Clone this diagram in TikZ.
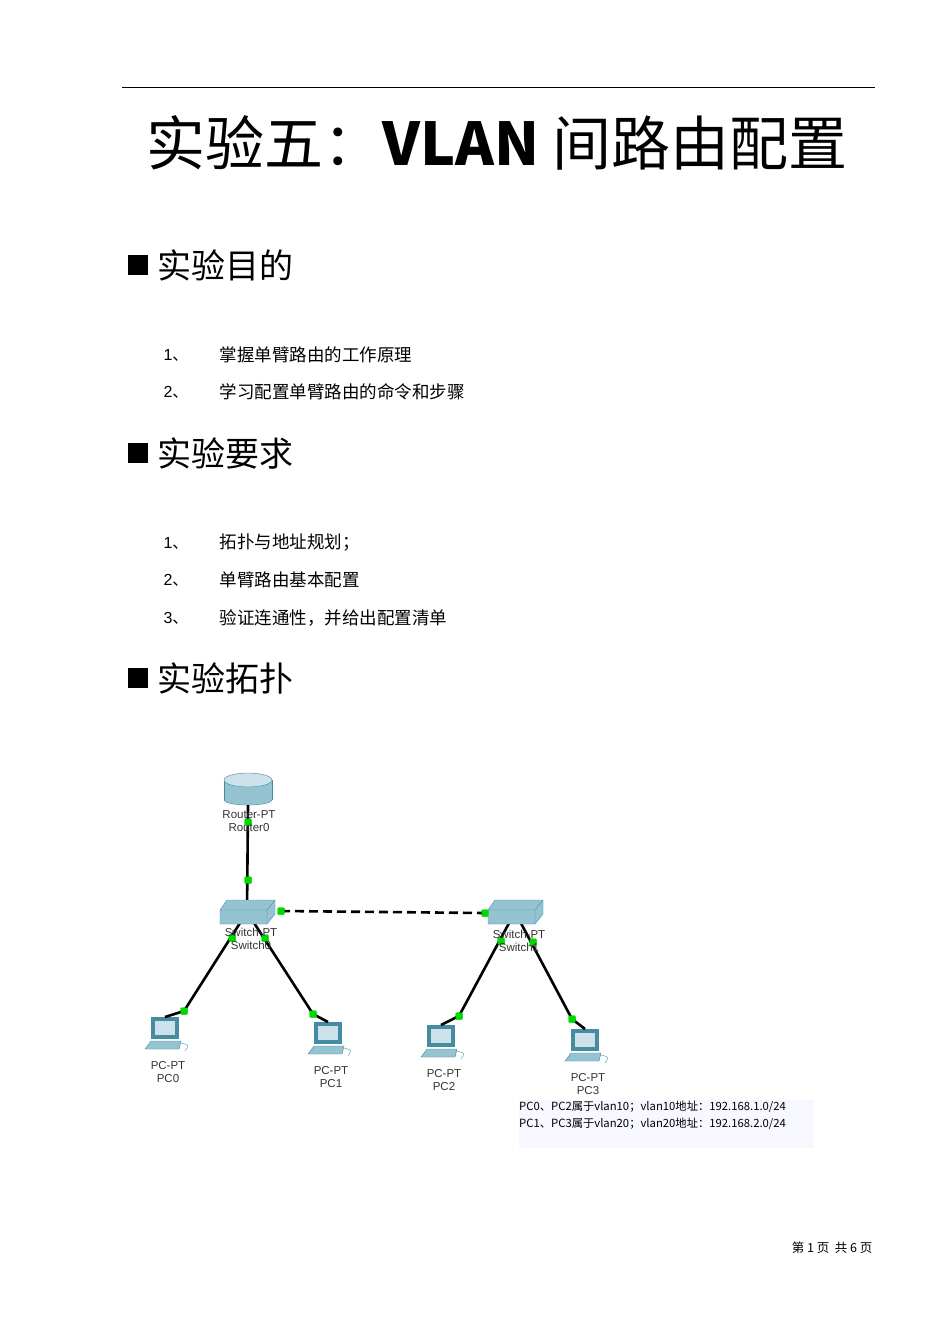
\documentclass[tikz,border=0pt]{standalone}
\usepackage{fontspec}
\usetikzlibrary{shapes.geometric}
\setmainfont{Liberation Sans}
\newfontfamily\cjk{Noto Sans CJK SC}
\definecolor{teal1}{RGB}{70,140,160}
\definecolor{teal2}{RGB}{150,195,210}
\definecolor{pcb}{RGB}{205,225,235}
\begin{document}
\begin{tikzpicture}[x=1pt,y=-1pt,
  head/.style={anchor=west,font=\cjk\fontsize{34}{34}\selectfont},
  item/.style={anchor=west,font=\cjk\fontsize{17.5}{17.5}\selectfont},
  lbl/.style={font=\fontsize{11.5}{12.5}\selectfont,text=black!80,align=center,inner sep=0},
  dot/.style={fill=green!85!black,minimum size=7pt,inner sep=0,rectangle,rounded corners=1pt},
  link/.style={line width=2.6pt,black}]
\useasboundingbox (0,0) rectangle (950,1344);
\draw[line width=0.8pt] (122,87) -- (875,87);
\node[font=\cjk\fontsize{59}{59}\selectfont] (title) at (497,143) {实验五：\textbf{VLAN} 间路由配置};
\foreach \y/\t [count=\i] in {265/实验目的,453/实验要求,678/实验拓扑}{
  \fill (128,\y-10) rectangle (148,\y+10);
  \node[head] (h\i) at (154,\y) {\t};}
\foreach \y/\n/\t [count=\i] in {355/1/掌握单臂路由的工作原理,392/2/学习配置单臂路由的命令和步骤,
  543/1/拓扑与地址规划；,580/2/单臂路由基本配置,618/3/验证连通性，并给出配置清单}{
  \node[item,font=\fontsize{16}{16}\selectfont] (n\i) at (160,\y) {\n\cjk 、};
  \node[item] (t\i) at (216,\y) {\t};}
% link ends
\node[dot] (d1) at (248,822) {}; \node[dot] (d2) at (248,880) {};
\node[dot] (d3) at (281,911) {}; \node[dot] (d4) at (485,913) {};
\node[dot] (d5) at (232,938) {}; \node[dot] (d6) at (265,938) {};
\node[dot] (d7) at (501,941) {}; \node[dot] (d8) at (533,942) {};
\node[dot] (e0) at (184,1011) {}; \node[dot] (e1) at (313,1014) {};
\node[dot] (e2) at (459,1016) {}; \node[dot] (e3) at (572,1019) {};
% switch anchors
\node[inner sep=0,minimum size=2pt] (sw0) at (247,912) {};
\node[inner sep=0,minimum size=2pt] (sw1) at (515,912) {};
% router
\node[draw=teal1,fill=teal2,ellipse,minimum width=48pt,minimum height=10pt,inner sep=0] (rb) at (248,800) {};
\draw[link] (rb.south) -- (sw0.center);
\fill[teal2] (224,780) rectangle (272,800);
\draw[teal1] (224,780) -- (224,800) (272,780)--(272,800);
\node[draw=teal1,fill=pcb,ellipse,minimum width=48pt,minimum height=14pt,inner sep=0] (router) at (248,780) {};
% PCs
\foreach \x/\y/\nm/\n in {165/1035/pc0/0,328/1040/pc1/1,441/1043/pc2/2,585/1047/pc3/3}{
  \fill[teal1] (\x-14,\y-18) rectangle (\x+14,\y+4);
  \fill[pcb] (\x-10,\y-14) rectangle (\x+10,\y);
  \fill[teal2,draw=teal1] (\x-20,\y+14) -- (\x-14,\y+6) -- (\x+16,\y+6) -- (\x+14,\y+14) -- cycle;
  \draw[teal1] (\x+16,\y+8) .. controls (\x+24,\y+10) .. (\x+20,\y+16);
  \node[inner sep=0,minimum size=2pt] (\nm) at (\x,\y-18) {};
  \node[lbl] (\nm l) at (\x+3,\y+37) {PC-PT\\PC\n};}
\draw[link,dash pattern=on 9pt off 5pt] (d3.center) -- (d4.center);
\draw[link] (sw0.center) -- (e0.center) -- (pc0.center);
\draw[link] (sw0.center) -- (e1.center) -- (pc1.center);
\draw[link] (sw1.center) -- (e2.center) -- (pc2.center);
\draw[link] (sw1.center) -- (e3.center) -- (pc3.center);
\foreach \x in {247,515}{
  \fill[teal2,draw=teal1] (\x-27,910) -- (\x-20,900) -- (\x+28,900) -- (\x+28,914) -- (\x+20,924) -- (\x-27,924) -- cycle;
  \draw[teal1] (\x-27,910) -- (\x+20,910) -- (\x+28,900) (\x+20,910)--(\x+20,924);}
\foreach \d in {d1,d2,d3,d4,d5,d6,d7,d8,e0,e1,e2,e3}{\node[dot] at (\d) {};}
\node[lbl] (rl) at (249,821) {Router-PT\\Router0};
\node[lbl] (sw0l) at (251,939) {Switch-PT\\Switch0};
\node[lbl] (sw1l) at (519,941) {Switch-PT\\Switch1};
% note
\fill[blue!3] (519,1100) rectangle (814,1148);
\node[anchor=north west,inner sep=0,font=\cjk\fontsize{11.3}{16.5}\selectfont,align=left] (note) at (519,1101)
  {PC0、PC2属于vlan10；vlan10地址：192.168.1.0/24\\PC1、PC3属于vlan20；vlan20地址：192.168.2.0/24};
\node[anchor=east,font=\cjk\fontsize{12.5}{12.5}\selectfont] (foot) at (876,1248) {第 1 页\ \ 共 6 页};
\end{tikzpicture}
\end{document}
